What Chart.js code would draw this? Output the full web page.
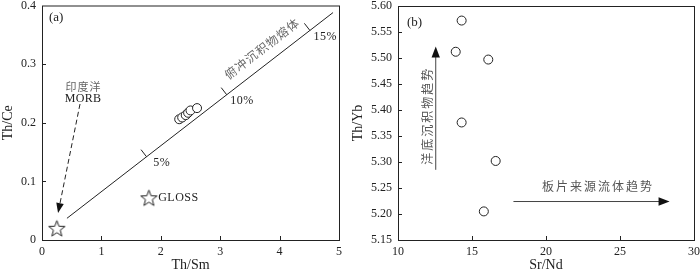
<!DOCTYPE html>
<html>
<head>
<script src="https://cdn.jsdelivr.net/npm/chart.js@4/dist/chart.umd.min.js"></script>
<style>
  body { margin: 0; background: #fff; }
  .box { position: absolute; top: 0; width: 350px; height: 274px; }
</style>
</head>
<body>
<div class="box" style="left:0"><canvas id="a" width="350" height="274"></canvas></div>
<div class="box" style="left:350px"><canvas id="b" width="350" height="274"></canvas></div>
<script>
// (a) Th/Sm vs Th/Ce
const thSm = [2.31, 2.36, 2.42, 2.46, 2.50, 2.61];
const thCe = [0.206, 0.209, 0.213, 0.217, 0.221, 0.225];
const morb = [0.25, 0.02];
const gloss = [1.8, 0.072];
const meltX = [0.42, 4.9];
const meltY = [0.037, 0.388];
const meltPct = ['5%', '10%', '15%'];
const meltPctX = [1.76, 3.11, 4.51];

// (b) Sr/Nd vs Th/Yb
const srNd = [14.3, 13.9, 16.1, 14.3, 16.6, 15.8];
const thYb = [5.572, 5.512, 5.497, 5.376, 5.302, 5.205];

const serif = "'Liberation Serif', 'DejaVu Serif', serif";
const cjk = "'Noto Sans CJK SC', sans-serif";

function starImage(size) {
  const c = document.createElement('canvas');
  c.width = size; c.height = size;
  const g = c.getContext('2d');
  const cx = size / 2, cy = size / 2 + 0.8, R = size / 2 - 1, r = R * 0.42;
  g.beginPath();
  for (let i = 0; i < 10; i++) {
    const rad = i % 2 ? r : R;
    const a = -Math.PI / 2 + i * Math.PI / 5;
    g.lineTo(cx + rad * Math.cos(a), cy + rad * Math.sin(a));
  }
  g.closePath();
  g.fillStyle = '#fff';
  g.fill();
  g.strokeStyle = '#222';
  g.lineWidth = 1;
  g.stroke();
  return c;
}
const star = starImage(19);

function arrow(ctx, x1, y1, x2, y2, head, color) {
  const a = Math.atan2(y2 - y1, x2 - x1);
  ctx.beginPath();
  ctx.moveTo(x1, y1);
  ctx.lineTo(x2 - head * 0.8 * Math.cos(a), y2 - head * 0.8 * Math.sin(a));
  ctx.stroke();
  ctx.setLineDash([]);
  ctx.beginPath();
  ctx.moveTo(x2, y2);
  ctx.lineTo(x2 - head * Math.cos(a) + head * 0.38 * Math.sin(a), y2 - head * Math.sin(a) - head * 0.38 * Math.cos(a));
  ctx.lineTo(x2 - head * Math.cos(a) - head * 0.38 * Math.sin(a), y2 - head * Math.sin(a) + head * 0.38 * Math.cos(a));
  ctx.closePath();
  ctx.fillStyle = color;
  ctx.fill();
}

// spaced text helper
function spaced(ctx, text, x, y, spacing) {
  ctx.letterSpacing = spacing + 'px';
  ctx.fillText(text, x + spacing / 2, y);
  ctx.letterSpacing = '0px';
}

// frame + inward ticks
function frame(xTicks, yTicks) {
  return {
    id: 'frame',
    afterDraw(chart) {
      const { ctx, chartArea: ca, scales } = chart;
      ctx.save();
      ctx.strokeStyle = '#222';
      ctx.lineWidth = 1;
      ctx.strokeRect(ca.left + 0.5, ca.top + 0.5, ca.right - ca.left, ca.bottom - ca.top);
      ctx.beginPath();
      xTicks.forEach(v => {
        const px = Math.round(scales.x.getPixelForValue(v)) + 0.5;
        ctx.moveTo(px, ca.bottom); ctx.lineTo(px, ca.bottom - 4);
      });
      yTicks.forEach(v => {
        const py = Math.round(scales.y.getPixelForValue(v)) + 0.5;
        ctx.moveTo(ca.left, py); ctx.lineTo(ca.left + 4, py);
      });
      ctx.stroke();
      ctx.restore();
    }
  };
}

function axes(xmin, xmax, xstep, ymin, ymax, ystep, xt, yt, yfmt, yw) {
  return {
    x: {
      type: 'linear', min: xmin, max: xmax,
      grid: { drawOnChartArea: false, drawTicks: false }, border: { display: false },
      ticks: { stepSize: xstep, padding: 5, color: '#222', font: { family: serif, size: 12 } },
      title: { display: true, text: xt, color: '#222', font: { family: serif, size: 14 }, padding: { top: 0, bottom: 0 } },
      afterFit(s) { s.height = 34; s.paddingLeft = 0; s.paddingRight = 0; }
    },
    y: {
      type: 'linear', min: ymin, max: ymax,
      grid: { drawOnChartArea: false, drawTicks: false }, border: { display: false },
      ticks: { stepSize: ystep, padding: 6, color: '#222', font: { family: serif, size: 12 }, callback: yfmt },
      title: { display: true, text: yt, color: '#222', font: { family: serif, size: 14 }, padding: { top: 0, bottom: 1 } },
      afterFit(s) { s.width = yw; s.paddingTop = 0; s.paddingBottom = 0; }
    }
  };
}

const decoA = {
  id: 'decoA',
  afterDatasetsDraw(chart) {
    const { ctx, scales: { x, y } } = chart;
    ctx.save();
    ctx.strokeStyle = '#222';
    ctx.lineWidth = 1;
    // percentage ticks on the melt line
    const p1 = [x.getPixelForValue(meltX[0]), y.getPixelForValue(meltY[0])];
    const p2 = [x.getPixelForValue(meltX[1]), y.getPixelForValue(meltY[1])];
    const ang = Math.atan2(p2[1] - p1[1], p2[0] - p1[0]);
    const nx = Math.sin(ang), ny = -Math.cos(ang);
    ctx.font = '12px ' + serif;
    ctx.fillStyle = '#222';
    ctx.textAlign = 'center';
    ctx.textBaseline = 'middle';
    meltPctX.forEach((v, i) => {
      const t = (v - meltX[0]) / (meltX[1] - meltX[0]);
      const px = p1[0] + t * (p2[0] - p1[0]);
      const py = p1[1] + t * (p2[1] - p1[1]);
      ctx.beginPath();
      ctx.moveTo(px, py);
      ctx.lineTo(px + nx * 9, py + ny * 9);
      ctx.stroke();
      spaced(ctx, meltPct[i], px + 15, py + 6, 0.5);
    });
    // melt line label
    const mt = 0.766;
    ctx.save();
    ctx.translate(p1[0] + mt * (p2[0] - p1[0]) + nx * 15, p1[1] + mt * (p2[1] - p1[1]) + ny * 15);
    ctx.rotate(ang);
    ctx.font = '12px ' + cjk;
    ctx.fillStyle = '#666';
    spaced(ctx, '俯冲沉积物熔体', 0, 0, 1);
    ctx.restore();
    // MORB pointer
    ctx.setLineDash([5, 3]);
    arrow(ctx, x.getPixelForValue(0.64), y.getPixelForValue(0.232), x.getPixelForValue(0.27), y.getPixelForValue(0.046), 10, '#111');
    ctx.font = '11px ' + cjk;
    ctx.fillStyle = '#666';
    spaced(ctx, '印度洋', x.getPixelForValue(0.69), y.getPixelForValue(0.262), 1);
    ctx.font = '12px ' + serif;
    ctx.fillStyle = '#222';
    spaced(ctx, 'MORB', x.getPixelForValue(0.69), y.getPixelForValue(0.24), 0.3);
    ctx.textAlign = 'left';
    spaced(ctx, 'GLOSS', x.getPixelForValue(gloss[0]) + 9, y.getPixelForValue(gloss[1]), 0.5);
    ctx.font = '13px ' + serif;
    ctx.fillText('(a)', chart.chartArea.left + 7, chart.chartArea.top + 12);
    ctx.restore();
  }
};

new Chart(document.getElementById('a'), {
  type: 'scatter',
  data: {
    datasets: [
      {
        data: meltX.map((v, i) => ({ x: v, y: meltY[i] })),
        showLine: true, borderColor: '#222', borderWidth: 1, pointRadius: 0
      },
      {
        data: thSm.map((v, i) => ({ x: v, y: thCe[i] })),
        pointRadius: 4.5, pointBackgroundColor: '#fff', pointBorderColor: '#222', pointBorderWidth: 1
      },
      {
        data: [{ x: morb[0], y: morb[1] }, { x: gloss[0], y: gloss[1] }],
        pointStyle: star
      }
    ]
  },
  options: {
    responsive: false,
    animation: false,
    layout: { padding: { top: 5, right: 11 } },
    plugins: { legend: { display: false }, tooltip: { enabled: false } },
    scales: axes(0, 5, 1, 0, 0.4, 0.1, 'Th/Sm', 'Th/Ce', v => v === 0 ? '0' : v.toFixed(1), 42)
  },
  plugins: [frame([1, 2, 3, 4], [0.1, 0.2, 0.3]), decoA]
});

const decoB = {
  id: 'decoB',
  afterDatasetsDraw(chart) {
    const { ctx, scales: { x, y } } = chart;
    ctx.save();
    ctx.strokeStyle = '#444';
    ctx.lineWidth = 1;
    arrow(ctx, x.getPixelForValue(12.55), y.getPixelForValue(5.285), x.getPixelForValue(12.55), y.getPixelForValue(5.522), 11, '#111');
    arrow(ctx, x.getPixelForValue(17.8), y.getPixelForValue(5.224), x.getPixelForValue(28.35), y.getPixelForValue(5.224), 11, '#111');
    ctx.font = '12px ' + cjk;
    ctx.fillStyle = '#555';
    ctx.textAlign = 'center';
    ctx.textBaseline = 'middle';
    ctx.save();
    ctx.translate(x.getPixelForValue(11.96), y.getPixelForValue(5.387));
    ctx.rotate(-Math.PI / 2);
    spaced(ctx, '洋底沉积物趋势', 0, 0, 2);
    ctx.restore();
    spaced(ctx, '板片来源流体趋势', x.getPixelForValue(23.45), y.getPixelForValue(5.253), 2);
    ctx.font = '13px ' + serif;
    ctx.fillStyle = '#222';
    ctx.textAlign = 'left';
    ctx.fillText('(b)', chart.chartArea.left + 9, chart.chartArea.top + 17);
    ctx.restore();
  }
};

new Chart(document.getElementById('b'), {
  type: 'scatter',
  data: {
    datasets: [{
      data: srNd.map((v, i) => ({ x: v, y: thYb[i] })),
      pointRadius: 4.5, pointBackgroundColor: '#fff', pointBorderColor: '#222', pointBorderWidth: 1
    }]
  },
  options: {
    responsive: false,
    animation: false,
    layout: { padding: { top: 6, right: 6 } },
    plugins: { legend: { display: false }, tooltip: { enabled: false } },
    scales: axes(10, 30, 5, 5.15, 5.6, 0.05, 'Sr/Nd', 'Th/Yb', v => v.toFixed(2), 48)
  },
  plugins: [frame([15, 20, 25], [5.2, 5.25, 5.3, 5.35, 5.4, 5.45, 5.5, 5.55]), decoB]
});
</script>
</body>
</html>
